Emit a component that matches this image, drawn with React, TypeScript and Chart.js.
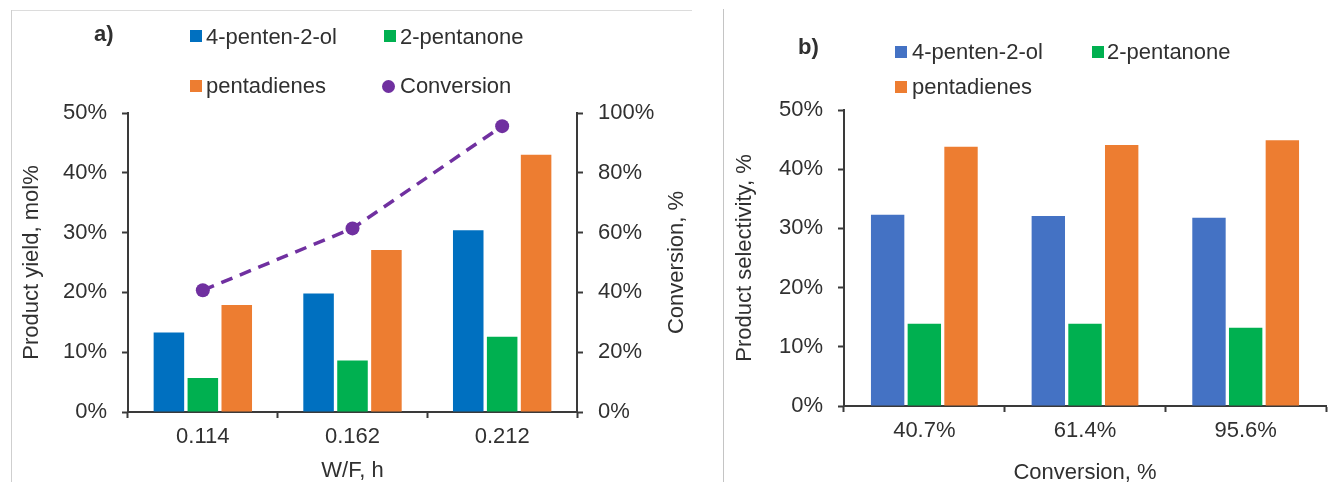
import React, { useEffect, useRef } from 'react';
import { Chart, registerables } from 'chart.js';

Chart.register(...registerables);

const FONT = "'Liberation Sans', Arial, Helvetica, sans-serif";
const TEXT = '#303030';
const AXIS = '#3a3a3a';

// ---- Panel a) ----
const wfCategories = ['0.114', '0.162', '0.212'];
const yieldPentenol = [13.3, 19.8, 30.4];
const yieldPentanone = [5.7, 8.6, 12.6];
const yieldPentadienes = [17.9, 27.1, 43.0];
const conversionValues = [40.7, 61.4, 95.6];

// ---- Panel b) ----
const conversionCategories = ['40.7%', '61.4%', '95.6%'];
const selPentenol = [32.3, 32.1, 31.8];
const selPentanone = [13.9, 13.9, 13.2];
const selPentadienes = [43.8, 44.1, 44.9];

const seriesNames = ['4-penten-2-ol', '2-pentanone', 'pentadienes', 'Conversion'];

Chart.defaults.font.family = FONT;
Chart.defaults.font.size = 22;
Chart.defaults.color = TEXT;

const pct = (v: any) => v + '%';

function axisBase() {
  return {
    border: { display: true, color: AXIS, width: 2 },
    grid: {
      display: true,
      drawOnChartArea: false,
      drawTicks: true,
      tickLength: 6,
      tickWidth: 2,
      tickColor: AXIS,
      color: AXIS,
    },
  };
}

const rightTitlePlugin = {
  id: 'rightTitle',
  afterDraw(chart: any) {
    const s = chart.scales.y1;
    if (!s) return;
    const ctx = chart.ctx;
    ctx.save();
    ctx.font = `22px ${FONT}`;
    ctx.fillStyle = TEXT;
    ctx.textAlign = 'center';
    ctx.textBaseline = 'middle';
    ctx.translate(s.right - 43, (chart.chartArea.top + chart.chartArea.bottom) / 2);
    ctx.rotate(-Math.PI / 2);
    ctx.fillText('Conversion, %', 0, 0);
    ctx.restore();
  },
};

function LegendSwatch({ x, y, color, round }: { x: number; y: number; color: string; round?: boolean }) {
  const size = round ? 13 : 12;
  return (
    <div
      style={{
        position: 'absolute',
        left: x,
        top: y - size / 2,
        width: size,
        height: size,
        background: color,
        borderRadius: round ? '50%' : 0,
      }}
    />
  );
}

function Label({ x, y, text, bold }: { x: number; y: number; text: string; bold?: boolean }) {
  return (
    <div
      style={{
        position: 'absolute',
        left: x,
        top: y - 13,
        fontFamily: FONT,
        fontSize: 22,
        lineHeight: '26px',
        color: TEXT,
        fontWeight: bold ? 'bold' : 'normal',
        whiteSpace: 'nowrap',
      }}
    >
      {text}
    </div>
  );
}

export default function App() {
  const leftRef = useRef<HTMLCanvasElement>(null);
  const rightRef = useRef<HTMLCanvasElement>(null);

  useEffect(() => {
    document.body.style.margin = '0';
    const c1 = new Chart(leftRef.current as HTMLCanvasElement, {
      type: 'bar',
      data: {
        labels: wfCategories,
        datasets: [
          {
            type: 'line',
            label: seriesNames[3],
            data: conversionValues,
            yAxisID: 'y1',
            borderColor: '#7030A0',
            backgroundColor: '#7030A0',
            borderDash: [12, 8],
            borderWidth: 3.5,
            pointRadius: 7,
            pointHoverRadius: 7,
            pointBorderWidth: 0,
            pointBackgroundColor: '#7030A0',
            tension: 0,
            order: 0,
          } as any,
          { label: seriesNames[0], data: yieldPentenol, backgroundColor: '#0070C0', yAxisID: 'y', order: 1 },
          { label: seriesNames[1], data: yieldPentanone, backgroundColor: '#00B050', yAxisID: 'y', order: 1 },
          { label: seriesNames[2], data: yieldPentadienes, backgroundColor: '#ED7D31', yAxisID: 'y', order: 1 },
        ],
      },
      options: {
        responsive: false,
        animation: false,
        layout: { padding: { top: 113, left: 0, right: 0, bottom: 0 } },
        datasets: { bar: { categoryPercentage: 0.68, barPercentage: 0.9 } },
        plugins: { legend: { display: false }, tooltip: { enabled: false } },
        scales: {
          x: {
            ...axisBase(),
            ticks: { color: TEXT, padding: 6 },
            title: { display: true, text: 'W/F, h', color: TEXT, padding: { top: 0, bottom: 16 } },
            afterFit: (s: any) => {
              s.height = 88;
            },
          },
          y: {
            ...axisBase(),
            position: 'left',
            min: 0,
            max: 50,
            ticks: { stepSize: 10, callback: pct, padding: 15, color: TEXT },
            title: { display: true, text: 'Product yield, mol%', color: TEXT, padding: { top: 7, bottom: 0 } },
            afterFit: (s: any) => {
              s.width = 116;
            },
          },
          y1: {
            ...axisBase(),
            position: 'right',
            min: 0,
            max: 100,
            ticks: { stepSize: 20, callback: pct, padding: 15, color: TEXT },
            afterFit: (s: any) => {
              s.width = 143;
            },
          },
        } as any,
      },
      plugins: [rightTitlePlugin],
    });

    const c2 = new Chart(rightRef.current as HTMLCanvasElement, {
      type: 'bar',
      data: {
        labels: conversionCategories,
        datasets: [
          { label: seriesNames[0], data: selPentenol, backgroundColor: '#4472C4' },
          { label: seriesNames[1], data: selPentanone, backgroundColor: '#00B050' },
          { label: seriesNames[2], data: selPentadienes, backgroundColor: '#ED7D31' },
        ],
      },
      options: {
        responsive: false,
        animation: false,
        layout: { padding: { top: 110, left: 0, right: 7, bottom: 0 } },
        datasets: { bar: { categoryPercentage: 0.685, barPercentage: 0.91 } },
        plugins: { legend: { display: false }, tooltip: { enabled: false } },
        scales: {
          x: {
            ...axisBase(),
            ticks: { color: TEXT, padding: 6 },
            title: { display: true, text: 'Conversion, %', color: TEXT, padding: { top: 0, bottom: 14 } },
            afterFit: (s: any) => {
              s.height = 94;
            },
          },
          y: {
            ...axisBase(),
            position: 'left',
            min: 0,
            max: 50,
            ticks: { stepSize: 10, callback: pct, padding: 15, color: TEXT },
            title: { display: true, text: 'Product selectivity, %', color: TEXT, padding: { top: 8, bottom: 0 } },
            afterFit: (s: any) => {
              s.width = 120;
            },
          },
        } as any,
      },
    });

    return () => {
      c1.destroy();
      c2.destroy();
    };
  }, []);

  return (
    <div
      style={{
        position: 'fixed',
        left: 0,
        top: 0,
        width: 1333,
        height: 482,
        overflow: 'hidden',
        background: '#ffffff',
      }}
    >
      {/* panel frames */}
      <div style={{ position: 'absolute', left: 11, top: 10, width: 681, height: 1, background: '#dcdcdc' }} />
      <div style={{ position: 'absolute', left: 11, top: 10, width: 1, height: 472, background: '#cfcfcf' }} />
      <div style={{ position: 'absolute', left: 723, top: 9, width: 1, height: 473, background: '#c4c4c4' }} />

      <canvas ref={leftRef} width={708} height={500} style={{ position: 'absolute', left: 12, top: 0 }} />
      <canvas ref={rightRef} width={609} height={500} style={{ position: 'absolute', left: 724, top: 0 }} />

      {/* legend a) */}
      <Label x={94} y={34} text="a)" bold />
      <LegendSwatch x={190} y={36} color="#0070C0" />
      <Label x={206} y={37} text={seriesNames[0]} />
      <LegendSwatch x={384} y={36} color="#00B050" />
      <Label x={400} y={37} text={seriesNames[1]} />
      <LegendSwatch x={190} y={86} color="#ED7D31" />
      <Label x={206} y={86} text={seriesNames[2]} />
      <LegendSwatch x={382} y={86} color="#7030A0" round />
      <Label x={400} y={86} text={seriesNames[3]} />

      {/* legend b) */}
      <Label x={798} y={47} text="b)" bold />
      <LegendSwatch x={895} y={52} color="#4472C4" />
      <Label x={912} y={52} text={seriesNames[0]} />
      <LegendSwatch x={1092} y={52} color="#00B050" />
      <Label x={1107} y={52} text={seriesNames[1]} />
      <LegendSwatch x={895} y={87} color="#ED7D31" />
      <Label x={912} y={87} text={seriesNames[2]} />
    </div>
  );
}
